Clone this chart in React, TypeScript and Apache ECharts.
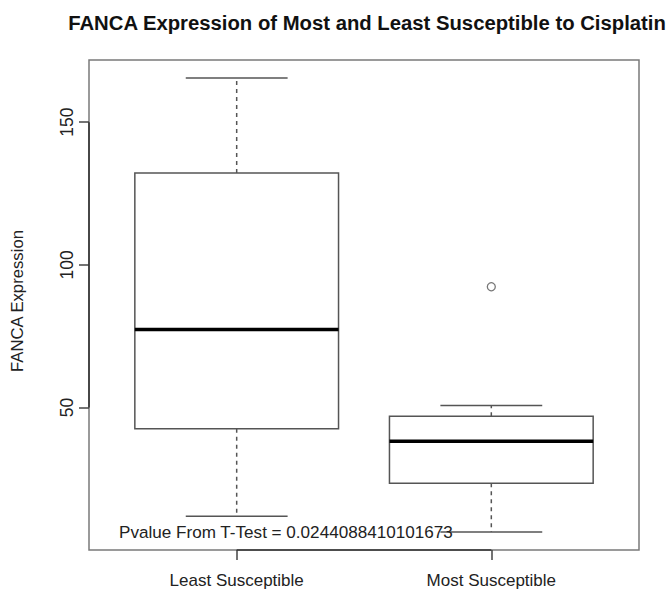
import React, { useEffect, useRef } from "react";
import * as echarts from "echarts";

const categories = ["Least Susceptible", "Most Susceptible"];
const lowerWhisker = [11.8, 6.3];
const lowerHinge = [42.5, 23.4];
const medians = [77.3, 38.1];
const upperHinge = [132.2, 46.9];
const upperWhisker = [165.5, 50.7];
const outlierGroup = [2];
const outlierValues = [92.3];
const yTicks = [50, 100, 150];
const xTicks = [1, 2];
const titleText = "FANCA Expression of Most and Least Susceptible to Cisplatin";
const yName = "FANCA Expression";
const pValueText = "Pvalue From T-Test = 0.0244088410101673";

const X_MIN = 0.42;
const X_MAX = 2.58;
const Y_MIN = 0;
const Y_MAX = 171.8;

const FONT = "'Liberation Sans', Arial, Helvetica, sans-serif";
const LINE = "#555";

export default function App() {
  const ref = useRef<HTMLDivElement>(null);

  useEffect(() => {
    document.body.style.margin = "0";
    if (!ref.current) return;
    const chart = echarts.init(ref.current, null, { renderer: "svg" });

    const boxData = categories.map((_, i) => [
      i + 1,
      lowerWhisker[i],
      lowerHinge[i],
      medians[i],
      upperHinge[i],
      upperWhisker[i],
    ]);

    const option: any = {
      animation: false,
      backgroundColor: "#fff",
      title: {
        text: titleText,
        left: 362,
        top: 8,
        textAlign: "center",
        textStyle: {
          fontFamily: FONT,
          fontSize: 20.3,
          fontWeight: "bold",
          color: "#111",
        },
      },
      grid: {
        left: 89,
        right: 28,
        top: 60,
        bottom: 45,
        show: true,
        borderColor: "#7a7a7a",
        borderWidth: 1.5,
        backgroundColor: "transparent",
      },
      xAxis: {
        type: "value",
        min: X_MIN,
        max: X_MAX,
        splitLine: { show: false },
        axisLine: { show: false },
        axisTick: {
          show: true,
          customValues: xTicks,
          length: 10,
          lineStyle: { color: "#444", width: 1.5 },
        },
        axisLabel: {
          show: true,
          customValues: xTicks,
          formatter: (v: number) => categories[Math.round(v) - 1] ?? "",
          margin: 22,
          fontFamily: FONT,
          fontSize: 17,
          color: "#222",
        },
      },
      yAxis: {
        type: "value",
        min: Y_MIN,
        max: Y_MAX,
        name: yName,
        nameLocation: "middle",
        nameGap: 63,
        nameRotate: 90,
        nameTextStyle: { fontFamily: FONT, fontSize: 16.7, color: "#222", padding: [0, 0, 0, 8] },
        splitLine: { show: false },
        axisLine: { show: false },
        axisTick: {
          show: true,
          customValues: yTicks,
          length: 10,
          lineStyle: { color: "#444", width: 1.5 },
        },
        axisLabel: {
          show: true,
          customValues: yTicks,
          rotate: 90,
          margin: 13,
          fontFamily: FONT,
          fontSize: 17.5,
          color: "#222",
        },
      },
      series: [
        {
          type: "custom",
          name: "axes",
          data: [[xTicks[0], yTicks[0]]],
          silent: true,
          z: 3,
          renderItem: (params: any, api: any) => {
            const yA = api.coord([X_MIN, yTicks[0]]);
            const yB = api.coord([X_MIN, yTicks[yTicks.length - 1]]);
            const xA = api.coord([xTicks[0], Y_MIN]);
            const xB = api.coord([xTicks[xTicks.length - 1], Y_MIN]);
            const st = { stroke: "#333", lineWidth: 1.6 };
            return {
              type: "group",
              children: [
                { type: "line", shape: { x1: yA[0], y1: yA[1], x2: yB[0], y2: yB[1] }, style: st },
                { type: "line", shape: { x1: xA[0], y1: xA[1], x2: xB[0], y2: xB[1] }, style: st },
              ],
            };
          },
        },
        {
          type: "custom",
          name: "boxplot",
          data: boxData,
          encode: { x: 0, y: [1, 2, 3, 4, 5] },
          z: 4,
          renderItem: (params: any, api: any) => {
            const x = api.value(0);
            const lw = api.coord([x, api.value(1)]);
            const q1 = api.coord([x, api.value(2)]);
            const md = api.coord([x, api.value(3)]);
            const q3 = api.coord([x, api.value(4)]);
            const uw = api.coord([x, api.value(5)]);
            const boxW = api.size([0.8, 0])[0];
            const cx = lw[0];
            const half = boxW / 2;
            const capHalf = boxW / 4;
            const solid = { stroke: LINE, lineWidth: 1.5, fill: null };
            const dashed = { stroke: LINE, lineWidth: 1.5, lineDash: [4, 4], fill: null };
            return {
              type: "group",
              children: [
                { type: "line", shape: { x1: cx, y1: q3[1], x2: cx, y2: uw[1] }, style: dashed },
                { type: "line", shape: { x1: cx, y1: q1[1], x2: cx, y2: lw[1] }, style: dashed },
                { type: "line", shape: { x1: cx - capHalf, y1: uw[1], x2: cx + capHalf, y2: uw[1] }, style: solid },
                { type: "line", shape: { x1: cx - capHalf, y1: lw[1], x2: cx + capHalf, y2: lw[1] }, style: solid },
                {
                  type: "rect",
                  shape: { x: cx - half, y: q3[1], width: boxW, height: q1[1] - q3[1] },
                  style: { stroke: LINE, lineWidth: 1.5, fill: "#fff" },
                },
                {
                  type: "line",
                  shape: { x1: cx - half, y1: md[1], x2: cx + half, y2: md[1] },
                  style: { stroke: "#000", lineWidth: 3.5 },
                },
              ],
            };
          },
        },
        {
          type: "scatter",
          name: "outliers",
          data: outlierGroup.map((g, i) => [g, outlierValues[i]]),
          symbol: "circle",
          symbolSize: 8,
          z: 5,
          itemStyle: { color: "#fff", borderColor: LINE, borderWidth: 1.3 },
        },
      ],
      graphic: [
        {
          type: "text",
          x: 119,
          y: 532,
          z: 100,
          style: {
            text: pValueText,
            fontFamily: FONT,
            fontSize: 17.1,
            fill: "#222",
            textVerticalAlign: "middle",
            textAlign: "left",
          },
        },
      ],
    };

    chart.setOption(option);
    return () => chart.dispose();
  }, []);

  return <div ref={ref} style={{ width: 667, height: 595 }} />;
}
